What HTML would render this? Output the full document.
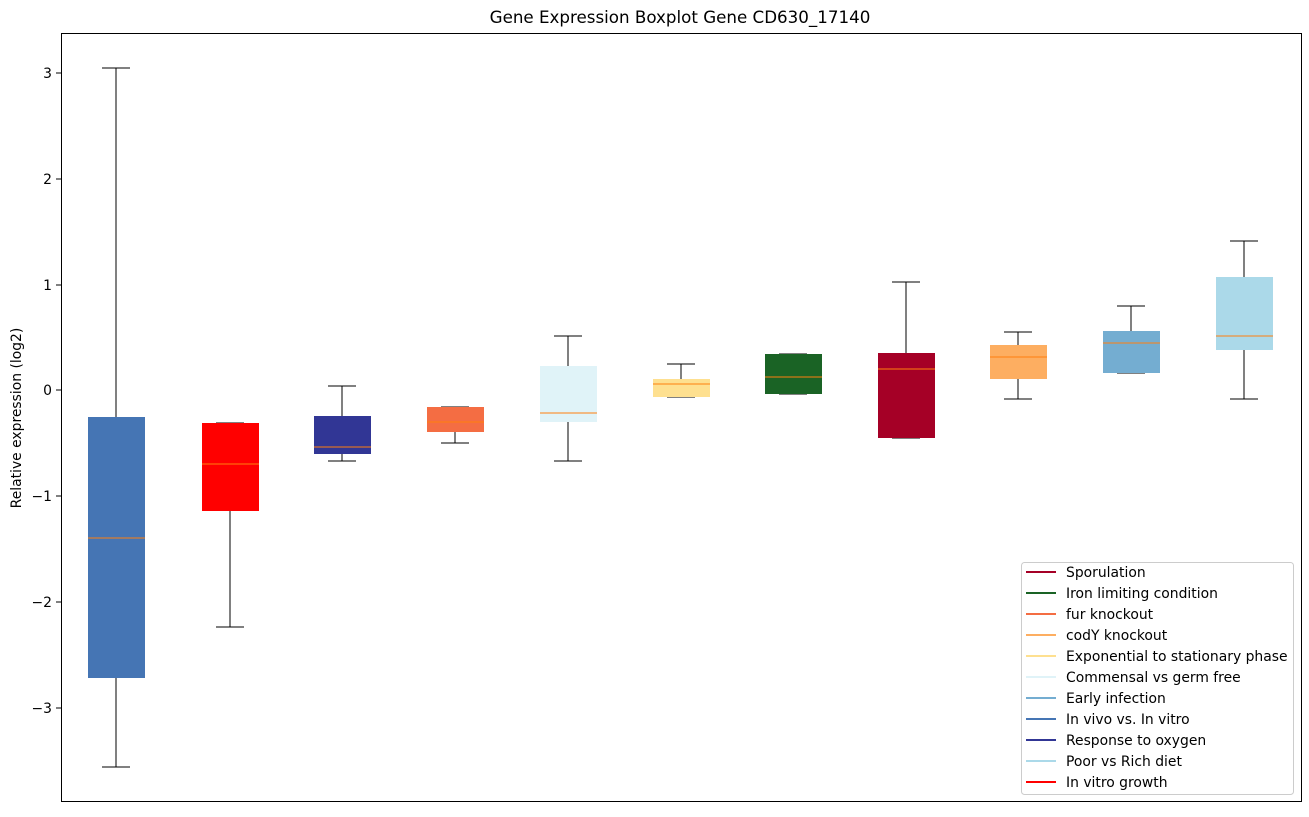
<!DOCTYPE html>
<html><head><meta charset="utf-8"><style>
body{margin:0;background:#fff;}
svg text{font-family:"DejaVu Sans","Liberation Sans",sans-serif;}
</style></head><body>
<svg width="1309" height="812" xmlns="http://www.w3.org/2000/svg">
<rect width="1309" height="812" fill="#fff"/>
<text x="680" y="23" font-size="16.7" text-anchor="middle">Gene Expression Boxplot Gene CD630_17140</text>
<g stroke="#000" stroke-width="1" fill="none" shape-rendering="crispEdges">
<line x1="116" y1="68" x2="116" y2="417"/><line x1="102" y1="68" x2="130" y2="68"/>
<line x1="116" y1="678" x2="116" y2="767"/><line x1="102" y1="767" x2="130" y2="767"/>
<line x1="216" y1="423" x2="244" y2="423"/>
<line x1="230" y1="511" x2="230" y2="627"/><line x1="216" y1="627" x2="244" y2="627"/>
<line x1="342" y1="386" x2="342" y2="416"/><line x1="328" y1="386" x2="356" y2="386"/>
<line x1="342" y1="454" x2="342" y2="461"/><line x1="328" y1="461" x2="356" y2="461"/>
<line x1="441" y1="407" x2="469" y2="407"/>
<line x1="455" y1="432" x2="455" y2="443"/><line x1="441" y1="443" x2="469" y2="443"/>
<line x1="568" y1="336" x2="568" y2="366"/><line x1="554" y1="336" x2="582" y2="336"/>
<line x1="568" y1="422" x2="568" y2="461"/><line x1="554" y1="461" x2="582" y2="461"/>
<line x1="681" y1="364" x2="681" y2="379"/><line x1="667" y1="364" x2="695" y2="364"/>
<line x1="667" y1="397" x2="695" y2="397"/>
<line x1="779" y1="354" x2="807" y2="354"/><line x1="779" y1="394" x2="807" y2="394"/>
<line x1="906" y1="282" x2="906" y2="353"/><line x1="892" y1="282" x2="920" y2="282"/>
<line x1="892" y1="438" x2="920" y2="438"/>
<line x1="1018" y1="332" x2="1018" y2="345"/><line x1="1004" y1="332" x2="1032" y2="332"/>
<line x1="1018" y1="379" x2="1018" y2="399"/><line x1="1004" y1="399" x2="1032" y2="399"/>
<line x1="1131" y1="306" x2="1131" y2="331"/><line x1="1117" y1="306" x2="1145" y2="306"/>
<line x1="1117" y1="373" x2="1145" y2="373"/>
<line x1="1244" y1="241" x2="1244" y2="277"/><line x1="1230" y1="241" x2="1258" y2="241"/>
<line x1="1244" y1="350" x2="1244" y2="399"/><line x1="1230" y1="399" x2="1258" y2="399"/>
</g>
<g>
<rect x="88" y="417" width="57" height="261" fill="#4575b4"/>
<rect x="202" y="423" width="57" height="88" fill="#ff0000"/>
<rect x="314" y="416" width="57" height="38" fill="#313695"/>
<rect x="427" y="407" width="57" height="25" fill="#f46d43"/>
<rect x="540" y="366" width="57" height="56" fill="#e0f3f8"/>
<rect x="653" y="379" width="57" height="18" fill="#fee090"/>
<rect x="765" y="354" width="57" height="40" fill="#1a6325"/>
<rect x="878" y="353" width="57" height="85" fill="#a50026"/>
<rect x="990" y="345" width="57" height="34" fill="#fdae61"/>
<rect x="1103" y="331" width="57" height="42" fill="#74add1"/>
<rect x="1216" y="277" width="57" height="73" fill="#abd9e9"/>
</g>
<g stroke="#ff7f0e" stroke-width="1" shape-rendering="crispEdges">
<line x1="88" y1="538" x2="145" y2="538"/>
<line x1="202" y1="464" x2="259" y2="464"/>
<line x1="314" y1="447" x2="371" y2="447"/>
<line x1="427" y1="422" x2="484" y2="422"/>
<line x1="540" y1="413" x2="597" y2="413"/>
<line x1="653" y1="384" x2="710" y2="384"/>
<line x1="765" y1="377" x2="822" y2="377"/>
<line x1="878" y1="369" x2="935" y2="369"/>
<line x1="990" y1="357" x2="1047" y2="357"/>
<line x1="1103" y1="343" x2="1160" y2="343"/>
<line x1="1216" y1="336" x2="1273" y2="336"/>
</g>
<rect x="61.5" y="33.5" width="1240" height="768" fill="none" stroke="#000"/>
<g font-size="13.9" text-anchor="end" shape-rendering="crispEdges">
<line x1="56" y1="73" x2="61" y2="73" stroke="#000"/><text x="52" y="78">3</text>
<line x1="56" y1="179" x2="61" y2="179" stroke="#000"/><text x="52" y="184">2</text>
<line x1="56" y1="285" x2="61" y2="285" stroke="#000"/><text x="52" y="290">1</text>
<line x1="56" y1="390" x2="61" y2="390" stroke="#000"/><text x="52" y="395">0</text>
<line x1="56" y1="496" x2="61" y2="496" stroke="#000"/><text x="52" y="501">−1</text>
<line x1="56" y1="602" x2="61" y2="602" stroke="#000"/><text x="52" y="607">−2</text>
<line x1="56" y1="708" x2="61" y2="708" stroke="#000"/><text x="52" y="713">−3</text>
</g>
<text transform="translate(21,418) rotate(-90)" font-size="13.9" text-anchor="middle">Relative expression (log2)</text>
<rect x="1021.5" y="562.5" width="272" height="232" rx="3" fill="#fff" fill-opacity="0.8" stroke="#ccc"/>
<g font-size="13.9" stroke-width="2">
<line x1="1026" y1="572" x2="1056" y2="572" stroke="#a50026"/><text x="1066" y="577">Sporulation</text>
<line x1="1026" y1="593" x2="1056" y2="593" stroke="#1a6325"/><text x="1066" y="598">Iron limiting condition</text>
<line x1="1026" y1="614" x2="1056" y2="614" stroke="#f46d43"/><text x="1066" y="619">fur knockout</text>
<line x1="1026" y1="635" x2="1056" y2="635" stroke="#fdae61"/><text x="1066" y="640">codY knockout</text>
<line x1="1026" y1="656" x2="1056" y2="656" stroke="#fee090"/><text x="1066" y="661">Exponential to stationary phase</text>
<line x1="1026" y1="677" x2="1056" y2="677" stroke="#e0f3f8"/><text x="1066" y="682">Commensal vs germ free</text>
<line x1="1026" y1="698" x2="1056" y2="698" stroke="#74add1"/><text x="1066" y="703">Early infection</text>
<line x1="1026" y1="719" x2="1056" y2="719" stroke="#4575b4"/><text x="1066" y="724">In vivo vs. In vitro</text>
<line x1="1026" y1="740" x2="1056" y2="740" stroke="#313695"/><text x="1066" y="745">Response to oxygen</text>
<line x1="1026" y1="761" x2="1056" y2="761" stroke="#abd9e9"/><text x="1066" y="766">Poor vs Rich diet</text>
<line x1="1026" y1="782" x2="1056" y2="782" stroke="#ff0000"/><text x="1066" y="787">In vitro growth</text>
</g>
</svg>
</body></html>
